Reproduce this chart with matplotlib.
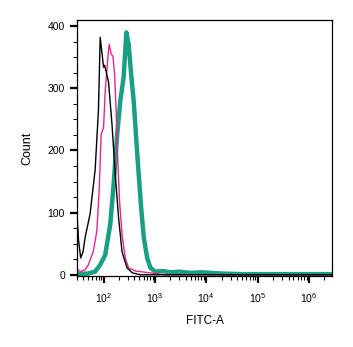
import matplotlib
matplotlib.use("Agg")
import matplotlib.pyplot as plt
import matplotlib.ticker as mticker
import numpy as np

plt.rcParams['font.family'] = ['Liberation Sans', 'DejaVu Sans']
plt.rcParams['mathtext.fontset'] = 'custom'
plt.rcParams['mathtext.rm'] = 'Liberation Sans'
plt.rcParams['mathtext.it'] = 'Liberation Sans'

# black histogram (unstained)
black_x = [30, 32.5, 35.9, 39.9, 43.7, 54.7, 68.6, 79.6, 86, 100, 105, 125,
           146, 169, 196, 229, 287, 364, 523, 2.85e6]
black_y = [105, 56, 27, 37, 60, 98, 169, 266, 382, 334, 337, 310,
           242, 161, 92, 37, 11, 3, 0, 0]

# magenta histogram
pink_x = [30, 34.8, 43.7, 50.6, 63.4, 73.9, 82, 89.8, 100, 107.7, 125, 129,
          141, 152, 164, 175, 188, 205, 229, 265, 308, 417, 655, 1028, 1614,
          2.85e6]
pink_y = [10, 5, 8, 16, 38, 70, 134, 226, 237, 296, 362, 371,
          355, 352, 323, 269, 189, 118, 65, 27, 11, 6, 4, 2, 0, 0]

# teal histogram (thick)
teal_x = [30, 50, 68.6, 86, 107.7, 135, 157, 182, 212, 246, 278, 308, 344,
          386, 436, 484, 540, 607, 707, 820, 1028, 1400, 2023, 3000, 4990,
          8000, 19360, 50000, 117800, 500000, 2.85e6]
teal_y = [1, 2, 5, 16, 32, 81, 145, 221, 280, 318, 390, 371, 323,
          280, 215, 161, 108, 60, 27, 11, 5, 6, 4, 5, 3, 4, 2, 1, 1, 1, 1]

fig = plt.figure(figsize=(3.53, 3.47), dpi=100)
ax = fig.add_axes([0.2173, 0.2046, 0.7241, 0.7378])

ax.plot(teal_x, teal_y, color='#1a9e84', lw=3.2, solid_joinstyle='round')
ax.plot(pink_x, pink_y, color='#e0288e', lw=1.0)
ax.plot(black_x, black_y, color='black', lw=1.0)

ax.set_xscale('log')
ax.set_xlim(30, 2.85e6)
ax.set_ylim(-2, 410)

ax.xaxis.set_major_locator(mticker.FixedLocator([1e2, 1e3, 1e4, 1e5, 1e6]))
ax.xaxis.set_major_formatter(mticker.LogFormatterMathtext())
ax.xaxis.set_minor_locator(mticker.LogLocator(base=10, subs=np.arange(2, 10)))
ax.xaxis.set_minor_formatter(mticker.NullFormatter())
ax.yaxis.set_major_locator(mticker.MultipleLocator(100))
ax.yaxis.set_minor_locator(mticker.MultipleLocator(25))

ax.tick_params(which='major', length=5, width=1.6, labelsize=7.5, colors='black')
ax.tick_params(which='minor', length=3, width=0.8)
ax.tick_params(axis='x', which='major', pad=6)
for s in ax.spines.values():
    s.set_linewidth(0.9)

ax.set_xlabel('FITC-A', fontsize=8.5, labelpad=7)
ax.set_ylabel('Count', fontsize=9, labelpad=10)

fig.savefig('out.png', dpi=100)
